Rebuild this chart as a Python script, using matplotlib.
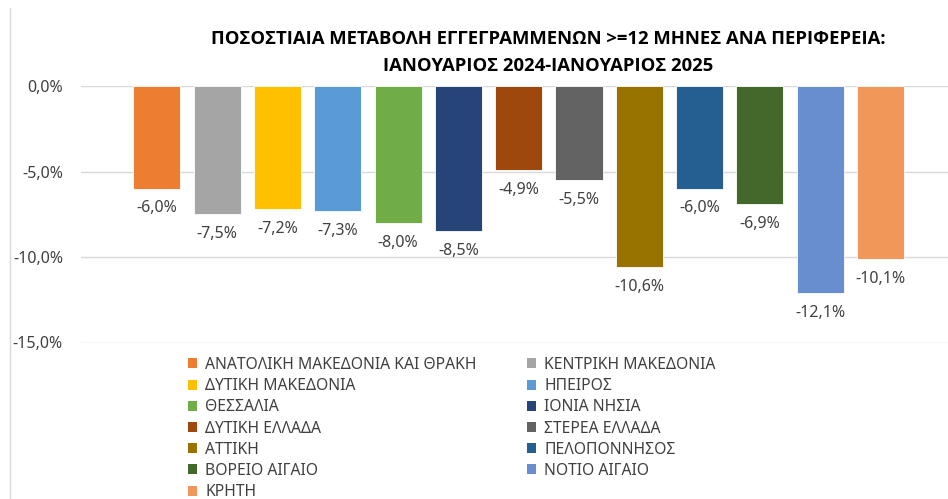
import numpy as np
import matplotlib
matplotlib.use('Agg')
import matplotlib.pyplot as plt
from matplotlib.patches import Patch
from matplotlib.lines import Line2D

plt.rcParams['font.family'] = ['Noto Sans', 'DejaVu Sans']

# data
regions = ['ΑΝΑΤΟΛΙΚΗ ΜΑΚΕΔΟΝΙΑ ΚΑΙ ΘΡΑΚΗ', 'ΚΕΝΤΡΙΚΗ ΜΑΚΕΔΟΝΙΑ', 'ΔΥΤΙΚΗ ΜΑΚΕΔΟΝΙΑ',
           'ΗΠΕΙΡΟΣ', 'ΘΕΣΣΑΛΙΑ', 'ΙΟΝΙΑ ΝΗΣΙΑ', 'ΔΥΤΙΚΗ ΕΛΛΑΔΑ', 'ΣΤΕΡΕΑ ΕΛΛΑΔΑ',
           'ΑΤΤΙΚΗ', 'ΠΕΛΟΠΟΝΝΗΣΟΣ', 'ΒΟΡΕΙΟ ΑΙΓΑΙΟ', 'ΝΟΤΙΟ ΑΙΓΑΙΟ', 'ΚΡΗΤΗ']
change = [-6.0, -7.5, -7.2, -7.3, -8.0, -8.5, -4.9, -5.5, -10.6, -6.0, -6.9, -12.1, -10.1]
colors = ['#ED7D31', '#A5A5A5', '#FFC000', '#5B9BD5', '#70AD47', '#264478', '#9E480E',
          '#636363', '#997300', '#255E91', '#43682B', '#698ED0', '#F1975A']
y_ticks = [0, -5, -10, -15]

title = 'ΠΟΣΟΣΤΙΑΙΑ ΜΕΤΑΒΟΛΗ ΕΓΓΕΓΡΑΜΜΕΝΩΝ >=12 ΜΗΝΕΣ ΑΝΑ ΠΕΡΙΦΕΡΕΙΑ:\nΙΑΝΟΥΑΡΙΟΣ 2024-ΙΑΝΟΥΑΡΙΟΣ 2025'

fig = plt.figure(figsize=(9.48, 4.99), dpi=100)
ax = fig.add_axes([81 / 948, 1 - 342.5 / 499, 1 - 81 / 948, (342.5 - 86) / 499])

x = np.arange(len(regions))
bars = ax.bar(x, change, width=0.78, color=colors, edgecolor='white', linewidth=0.6, zorder=3)

for xi, v in zip(x, change):
    ax.annotate(f'{v:.1f}%'.replace('.', ','), (xi, v), xytext=(0, -8.5), textcoords='offset points',
                ha='center', va='top', fontsize=11.5, color='#404040')

ax.set_xlim(-1.26, 13.12)
ax.set_ylim(-15, 0)
ax.set_yticks(y_ticks)
ax.set_yticklabels([f'{t:.1f}%'.replace('.', ',') for t in y_ticks], fontsize=11.5, color='#404040')
ax.tick_params(axis='y', length=0, pad=13)
ax.set_xticks([])
ax.grid(axis='y', color='#D9D9D9', linewidth=1, zorder=0)
for s in ax.spines.values():
    s.set_visible(False)

# chart border on the left
fig.add_artist(Line2D([10 / 948, 10 / 948], [0, 1 - 8 / 499], color='#D9D9D9', linewidth=1))

fig.text(548 / 948, 1 - 52.5 / 499, title, ha='center', va='center', fontsize=13.3,
         fontweight='bold', color='black', linespacing=1.68,
         family=['Open Sans', 'DejaVu Sans'])

# legend, row-major like excel
order = list(range(0, 13, 2)) + list(range(1, 13, 2))
handles = [Patch(facecolor=colors[i], edgecolor='none') for i in order]
labels = [regions[i] for i in order]
fig.legend(handles, labels, ncol=2, loc='upper left', bbox_to_anchor=(188 / 948, 1 - 357 / 499),
           frameon=False, fontsize=11.3, handlelength=0.6, handleheight=0.6, handletextpad=0.5,
           columnspacing=3.2, labelspacing=0.33, labelcolor='#404040', borderpad=0, borderaxespad=0)

fig.savefig('out.png', dpi=100, facecolor='white')
